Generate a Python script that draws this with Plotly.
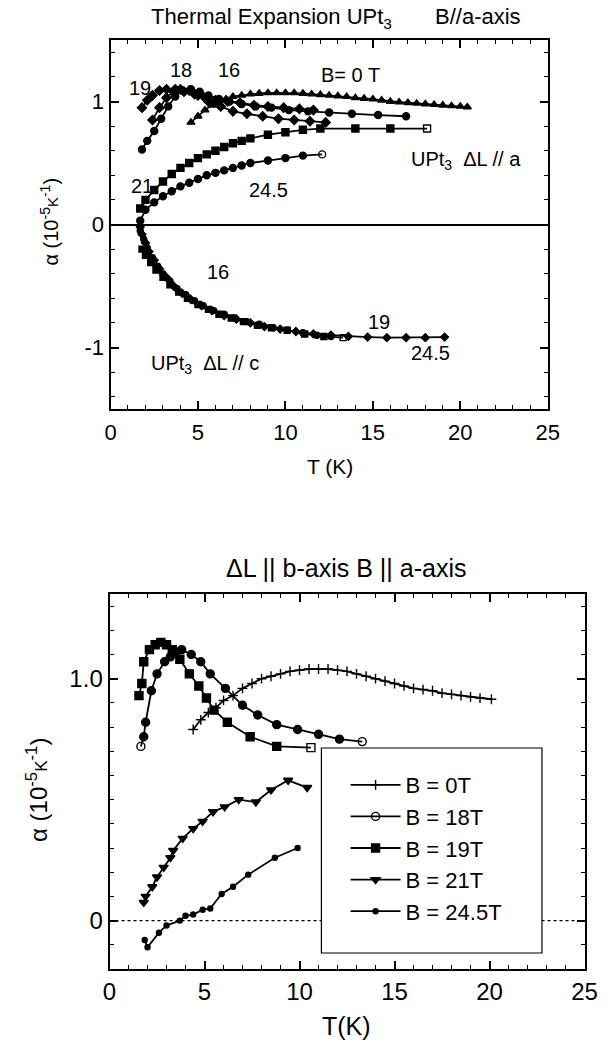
import plotly.graph_objects as go

W, H = 613, 1050
FONT = "Liberation Sans, Arial, sans-serif"

# ---------------- Top panel: UPt3, B // a-axis ----------------
# a-axis (dL // a)
a0_T = [4.6,5.0,5.4,5.8,6.2,6.6,7.0,7.5,8.0,8.5,9.0,9.5,10,10.5,11,11.5,12,12.5,13,13.5,14,14.5,15,15.5,16,16.5,17,17.5,18,18.5,19,19.5,20,20.4]
a0_A = [0.83,0.88,0.93,0.97,1.0,1.02,1.04,1.05,1.06,1.065,1.07,1.07,1.07,1.07,1.065,1.06,1.055,1.05,1.045,1.04,1.03,1.025,1.02,1.01,1.0,0.995,0.99,0.985,0.98,0.975,0.97,0.965,0.96,0.955]
a16_T = [1.8,2.1,2.5,2.9,3.3,3.7,4.1,4.6,5.1,5.6,6.2,6.8,7.5,8.3,9.2,10.2,11.3,12.5,13.8,15.3,16.9]
a16_A = [0.61,0.68,0.76,0.86,0.96,1.04,1.09,1.1,1.08,1.05,1.02,1.0,0.98,0.96,0.95,0.93,0.92,0.91,0.9,0.89,0.88]
a18_T = [2.4,2.8,3.2,3.6,4.0,4.5,5.0,5.6,6.3,7.0,7.8,8.7,9.6,10.5,11.4,12.3]
a18_A = [0.85,0.95,1.03,1.08,1.1,1.09,1.05,1.0,0.96,0.92,0.9,0.88,0.86,0.85,0.84,0.83]
a19_T = [1.8,2.1,2.4,2.8,3.2,3.7,4.2,4.8,5.4,6.0,6.7,7.4,8.2,9.0,9.9,10.8,11.6]
a19_A = [0.95,1.01,1.05,1.09,1.1,1.1,1.08,1.06,1.03,1.01,1.0,0.99,0.97,0.96,0.95,0.94,0.93]
a21_T = [1.7,2.0,2.5,3.0,3.5,4.0,4.5,5.0,5.5,6.0,6.5,7.0,7.5,8.0,9.0,10.0,11.0,12.0,14.0,16.0,18.1]
a21_A = [0.13,0.2,0.28,0.35,0.41,0.46,0.5,0.54,0.57,0.6,0.63,0.66,0.68,0.7,0.73,0.75,0.77,0.78,0.78,0.78,0.78]
a245_T = [1.7,2.0,2.5,3.0,3.5,4.0,4.5,5.0,5.5,6.0,6.5,7.0,7.5,8.0,9.0,10.0,11.0,12.1]
a245_A = [0.03,0.12,0.18,0.23,0.27,0.31,0.34,0.37,0.4,0.42,0.44,0.46,0.48,0.5,0.52,0.54,0.56,0.57]
# c-axis (dL // c)
c16_T = [1.7,1.9,2.1,2.4,2.7,3.0,3.4,3.8,4.3,4.8,5.3,5.9,6.5,7.1,7.8,8.5,9.3,10.1,11.0,11.8,12.6]
c16_A = [-0.05,-0.12,-0.19,-0.27,-0.34,-0.40,-0.46,-0.52,-0.57,-0.62,-0.66,-0.70,-0.73,-0.76,-0.79,-0.81,-0.84,-0.86,-0.88,-0.90,-0.91]
c19_T = [1.8,2.0,2.3,2.6,3.0,3.4,3.9,4.4,5.0,5.6,6.2,6.9,7.6,8.4,9.2,10.1,11.1,12.2,13.3]
c19_A = [-0.20,-0.25,-0.31,-0.37,-0.43,-0.49,-0.55,-0.60,-0.65,-0.69,-0.73,-0.76,-0.79,-0.82,-0.84,-0.86,-0.89,-0.91,-0.92]
c245_T = [1.7,1.8,2.0,2.2,2.5,2.8,3.2,3.6,4.1,4.6,5.2,5.8,6.5,7.2,8.0,8.8,9.7,10.6,11.6,12.6,13.6,14.7,15.8,16.9,18.0,19.1]
c245_A = [-0.02,-0.08,-0.15,-0.22,-0.29,-0.36,-0.43,-0.5,-0.56,-0.61,-0.66,-0.7,-0.74,-0.77,-0.8,-0.83,-0.85,-0.87,-0.89,-0.9,-0.91,-0.915,-0.92,-0.92,-0.92,-0.915]

# ---------------- Bottom panel: dL || b-axis, B || a-axis ----------------
b0_T = [4.4,4.8,5.2,5.6,6.0,6.5,7.0,7.5,8.0,8.5,9.0,9.5,10,10.5,11,11.5,12,12.5,13,13.5,14,14.5,15,15.5,16,16.5,17,17.5,18,18.5,19,19.5,20.1]
b0_A = [0.79,0.83,0.86,0.88,0.91,0.93,0.96,0.98,1.0,1.01,1.02,1.03,1.035,1.04,1.04,1.04,1.035,1.03,1.02,1.01,1.0,0.99,0.98,0.97,0.96,0.955,0.95,0.94,0.935,0.93,0.925,0.92,0.915]
b18_T = [1.65,1.8,1.9,2.2,2.5,2.9,3.2,3.5,3.8,4.3,4.8,5.3,6.1,7.0,7.8,8.8,9.9,11.0,12.1,13.3]
b18_A = [0.72,0.76,0.82,0.95,1.02,1.07,1.09,1.11,1.12,1.10,1.07,1.02,0.96,0.89,0.85,0.81,0.79,0.77,0.75,0.74]
b19_T = [1.55,1.7,1.8,2.1,2.4,2.7,3.0,3.3,3.7,4.2,4.7,5.1,5.5,6.2,7.4,8.8,10.6]
b19_A = [0.93,0.98,1.07,1.12,1.14,1.15,1.14,1.12,1.08,1.02,0.97,0.92,0.87,0.82,0.76,0.72,0.715]
b21_T = [1.8,1.9,2.25,2.5,2.85,3.2,3.35,3.85,4.4,4.9,5.45,6.06,6.8,7.7,8.5,9.4,10.4]
b21_A = [0.075,0.10,0.14,0.18,0.22,0.26,0.29,0.34,0.38,0.41,0.45,0.47,0.50,0.49,0.54,0.58,0.55]
b245_T = [1.85,2.0,2.6,3.0,3.7,4.0,4.4,4.9,5.3,5.9,6.5,7.3,8.7,9.9]
b245_A = [-0.08,-0.11,-0.05,-0.02,0.0,0.02,0.025,0.045,0.05,0.11,0.14,0.19,0.26,0.30]

legend_names = ["B = 0T", "B = 18T", "B = 19T", "B = 21T", "B = 24.5T"]

fig = go.Figure()

def add(T, A, sym, size, xa, ya, name=None, show=False, lw=1.8):
    fig.add_trace(go.Scatter(
        x=T, y=A, mode="lines+markers", xaxis=xa, yaxis=ya,
        name=name, showlegend=show,
        line=dict(color="black", width=lw),
        marker=dict(symbol=sym, size=size, color="black",
                    line=dict(color="black", width=1.4)),
    ))

def ends(n, body, last, first=None):
    s = [body] * n
    s[-1] = last
    if first is not None:
        s[0] = first
    return s

# top panel traces
add(a0_T, a0_A, "triangle-up", 7, "x", "y")
add(a16_T, a16_A, "circle", 7, "x", "y")
add(a18_T, a18_A, "diamond", 7, "x", "y")
add(a19_T, a19_A, "diamond", 7, "x", "y")
add(a21_T, a21_A, ends(len(a21_T), "square", "square-open"), 7, "x", "y")
add(a245_T, a245_A, ends(len(a245_T), "circle", "circle-open"), 7, "x", "y")
add(c16_T, c16_A, "circle", 6, "x", "y")
add(c19_T, c19_A, ends(len(c19_T), "square", "square-open"), 6, "x", "y")
add(c245_T, c245_A, "diamond", 6, "x", "y")

# bottom panel traces (with legend)
add(b0_T, b0_A, "cross-thin", 7, "x2", "y2", legend_names[0], True)
add(b18_T, b18_A, ends(len(b18_T), "circle", "circle-open", "circle-open"), 8, "x2", "y2", legend_names[1], True)
add(b19_T, b19_A, ends(len(b19_T), "square", "square-open"), 8, "x2", "y2", legend_names[2], True)
add(b21_T, b21_A, "triangle-down", 8, "x2", "y2", legend_names[3], True)
add(b245_T, b245_A, "circle", 5, "x2", "y2", legend_names[4], True)

def px_x(p):
    return p / W

def px_y(p):
    return 1 - p / H

axis_common = dict(
    showline=True, linecolor="black", linewidth=2, mirror="ticks",
    ticks="inside", ticklen=8, tickwidth=1.5, tickcolor="black",
    showgrid=False, zeroline=False,
    tickfont=dict(family=FONT, size=22, color="black"),
)

fig.update_layout(
    width=W, height=H, margin=dict(l=0, r=0, t=0, b=0),
    paper_bgcolor="white", plot_bgcolor="white",
    font=dict(family=FONT, color="black"),
    xaxis=dict(axis_common, domain=[px_x(107), px_x(559)], range=[0, 25],
               anchor="y", tick0=0, dtick=5, ticklabelstandoff=3,
               minor=dict(dtick=1, ticks="inside", ticklen=4, tickwidth=1.2, tickcolor="black")),
    yaxis=dict(axis_common, domain=[px_y(409), px_y(40)], range=[-1.5, 1.5],
               anchor="x", tickvals=[-1, 0, 1], ticktext=["-1", "0", "1"],
               zeroline=True, zerolinecolor="black", zerolinewidth=1.8,
               minor=dict(dtick=0.2, tick0=0, ticks="inside", ticklen=4, tickwidth=1.2, tickcolor="black")),
    xaxis2=dict(axis_common, domain=[px_x(106), px_x(597)], range=[0, 25],
                anchor="y2", tick0=0, dtick=5, ticklabelstandoff=0,
                tickfont=dict(family=FONT, size=24, color="black"),
                minor=dict(dtick=1, ticks="inside", ticklen=4, tickwidth=1.2, tickcolor="black")),
    yaxis2=dict(axis_common, domain=[px_y(969), px_y(594)], range=[-0.2, 1.35],
                anchor="x2", tickvals=[0, 1], ticktext=["0", "1.0"],
                tickfont=dict(family=FONT, size=24, color="black"),
                minor=dict(dtick=0.1, tick0=0, ticks="inside", ticklen=4, tickwidth=1.2, tickcolor="black")),
    legend=dict(x=px_x(350), y=px_y(764), xanchor="left", yanchor="top",
                bgcolor="rgba(0,0,0,0)", borderwidth=0,
                font=dict(family=FONT, size=22, color="black"),
                itemwidth=50, tracegroupgap=0),
)

# dotted zero line on bottom panel, and legend frame
fig.add_shape(type="line", xref="x2 domain", x0=0, x1=1, yref="y2", y0=0, y1=0,
              line=dict(color="black", width=1.2, dash="dot"), layer="below")
fig.add_shape(type="rect", xref="paper", yref="paper",
              x0=px_x(325), x1=px_x(553), y0=px_y(953), y1=px_y(748),
              line=dict(color="black", width=1.2), fillcolor="white", layer="above")

def ann(text, x, y, size=20, anchor="center", angle=0):
    fig.add_annotation(text=text, x=px_x(x), y=px_y(y), xref="paper", yref="paper",
                       showarrow=False, xanchor=anchor, yanchor="middle",
                       textangle=angle, font=dict(family=FONT, size=size, color="black"))

# titles
ann("Thermal Expansion UPt<sub>3</sub>", 147, 18, 22, "left")
ann("B//a-axis", 440, 16, 22, "left")
ann("ΔL || b-axis B || a-axis", 350, 568, 25)
# axis titles
ann("T (K)", 334, 467, 21)
ann("T(K)", 351, 1026, 25)
ann("α (10<sup>-5</sup><span style='font-size:15px'>K</span><sup>-1</sup>)", 44, 222, 20, angle=-90)
ann("α (10<sup>-5</sup><span style='font-size:17px'>K</span><sup>-1</sup>)", 31, 790, 24, angle=-90)

# curve labels in top panel
ann("19", 137, 88)
ann("18", 180, 70)
ann("16", 230, 70)
ann("B= 0 T", 355, 75)
ann("UPt<sub>3</sub>  ΔL // a", 474, 160)
ann("21", 140, 186)
ann("24.5", 270, 190)
ann("16", 218, 272)
ann("19", 385, 322)
ann("24.5", 438, 353)
ann("UPt<sub>3</sub>  ΔL // c", 205, 364)

fig.write_html("out.html")
